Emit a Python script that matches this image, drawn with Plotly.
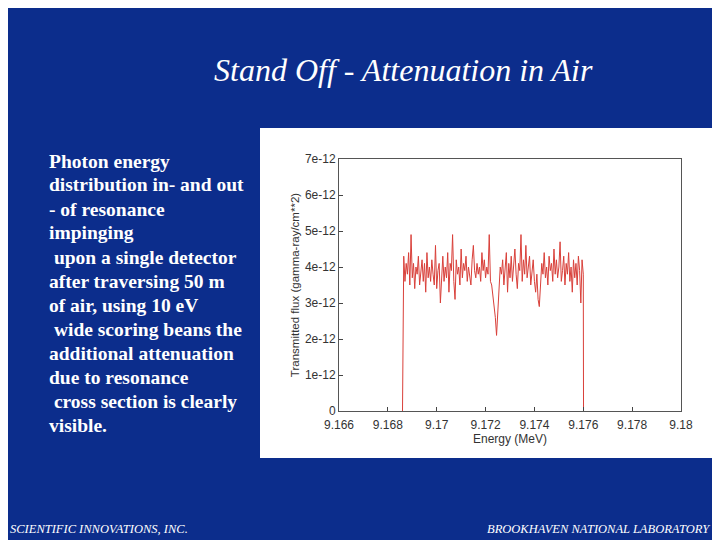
import numpy as np
import plotly.graph_objects as go

flux = [4.3,3.6,4.1,3.8,4.4,3.5,4.9,3.7,4.1,3.4,
4.0,3.8,4.3,3.5,3.9,4.2,3.6,4.1,3.3,4.4,
3.7,4.0,3.6,4.2,3.8,3.5,4.6,3.4,3.9,4.1,
3.0,3.8,4.3,3.6,4.0,3.7,4.4,3.3,4.1,3.9,
4.9,3.6,3.1,4.2,3.8,4.0,3.5,4.5,3.7,4.1,
3.9,4.3,3.6,4.0,3.8,3.5,4.2,4.6,3.9,3.7,
4.1,3.8,4.0,3.6,4.4,3.9,4.2,3.7,4.0,3.8,
4.9,3.6,3.5,3.2,3.0,2.6,2.1,2.7,3.3,4.0,
3.8,4.2,3.5,3.9,4.4,3.3,4.1,3.7,4.3,3.6,
4.0,4.5,3.8,3.4,4.1,3.9,4.9,3.6,4.2,3.8,
4.6,3.7,4.0,4.3,3.5,3.9,4.2,3.6,3.3,3.8,
3.1,2.9,3.6,4.1,3.8,4.4,3.7,4.0,3.5,4.3,
3.9,4.1,3.6,4.5,3.8,4.2,3.7,4.0,4.7,3.6,
3.9,4.3,3.5,4.1,3.8,4.4,3.6,4.0,3.3,4.2,
3.7,4.1,3.5,4.3,3.9,3.0,4.2,3.8]
e_start, e_end = 9.16865, 9.17600
energy = list(np.linspace(e_start, e_end, len(flux)))
x = [9.1686] + energy + [9.17601]
y = [0] + [v * 1e-12 for v in flux] + [0]

xticks = [9.166, 9.168, 9.17, 9.172, 9.174, 9.176, 9.178, 9.18]
xlabels = ["9.166", "9.168", "9.17", "9.172", "9.174", "9.176", "9.178", "9.18"]
yticks = [0, 1e-12, 2e-12, 3e-12, 4e-12, 5e-12, 6e-12, 7e-12]
ylabels = ["0", "1e-12", "2e-12", "3e-12", "4e-12", "5e-12", "6e-12", "7e-12"]

W, H, OFF = 712, 532, 8
def fx(px): return max(0.0, (px - OFF) / W)
def fy(py): return min(1.0, 1 - (py - OFF) / H)

fig = go.Figure(go.Scatter(x=x, y=y, mode="lines", line=dict(color="#d9403a", width=1), showlegend=False))

fig.update_layout(
    width=W, height=H, margin=dict(l=0, r=0, t=0, b=0, pad=0),
    paper_bgcolor="#0c2d8c", plot_bgcolor="white",
    font=dict(family="Liberation Sans", color="#333"),
    xaxis=dict(domain=[fx(339), fx(681)], range=[9.166, 9.18], tickvals=xticks, ticktext=xlabels,
               showgrid=False, zeroline=False, showline=True, mirror=True, linecolor="#555",
               ticks="inside", ticklen=4, tickfont=dict(size=12), automargin=False, ticklabelstandoff=3,
               title=dict(text="Energy (MeV)", font=dict(size=12), standoff=0)),
    yaxis=dict(domain=[fy(411), fy(159)], range=[0, 7e-12], tickvals=yticks, ticktext=ylabels,
               showgrid=False, zeroline=False, showline=True, mirror=True, linecolor="#555",
               ticks="inside", ticklen=4, tickfont=dict(size=12), automargin=False,
               title=dict(text="Transmitted flux (gamma-ray/cm**2)", font=dict(size=11.5), standoff=2)),
    shapes=[dict(type="rect", xref="paper", yref="paper", x0=fx(260), x1=fx(712), y0=fy(458), y1=fy(128),
                 fillcolor="white", line=dict(width=0), layer="below")],
)

serif = "Liberation Serif"
fig.add_annotation(x=fx(403), y=fy(70), xref="paper", yref="paper", showarrow=False,
                   xanchor="center", yanchor="middle",
                   text="<i>Stand Off - Attenuation in Air</i>", font=dict(family=serif, size=32, color="white"))
lines = ["Photon energy", "distribution in- and out", "- of resonance", "impinging", " upon a single detector",
         "after traversing 50 m", "of air, using 10 eV", " wide scoring beans the", "additional attenuation",
         "due to resonance", " cross section is clearly", "visible."]
for i, t in enumerate(lines):
    txt = t.replace(" ", "&nbsp;", 1) if t.startswith(" ") else t
    fig.add_annotation(x=fx(47), y=fy(161 + 24 * i), xref="paper", yref="paper", showarrow=False,
                       xanchor="left", yanchor="middle", text="<b>" + txt + "</b>",
                       font=dict(family=serif, size=19.5, color="white"))
fig.add_annotation(x=fx(6), y=fy(529), xref="paper", yref="paper", showarrow=False, xanchor="left",
                   yanchor="middle",
                   text="<i>SCIENTIFIC INNOVATIONS, INC.</i>", font=dict(family=serif, size=12.5, color="white"))
fig.add_annotation(x=fx(713), y=fy(529), xref="paper", yref="paper", showarrow=False, xanchor="right",
                   yanchor="middle",
                   text="<i>BROOKHAVEN NATIONAL LABORATORY</i>", font=dict(family=serif, size=12.5, color="white"))

fig.write_html("out.html")
